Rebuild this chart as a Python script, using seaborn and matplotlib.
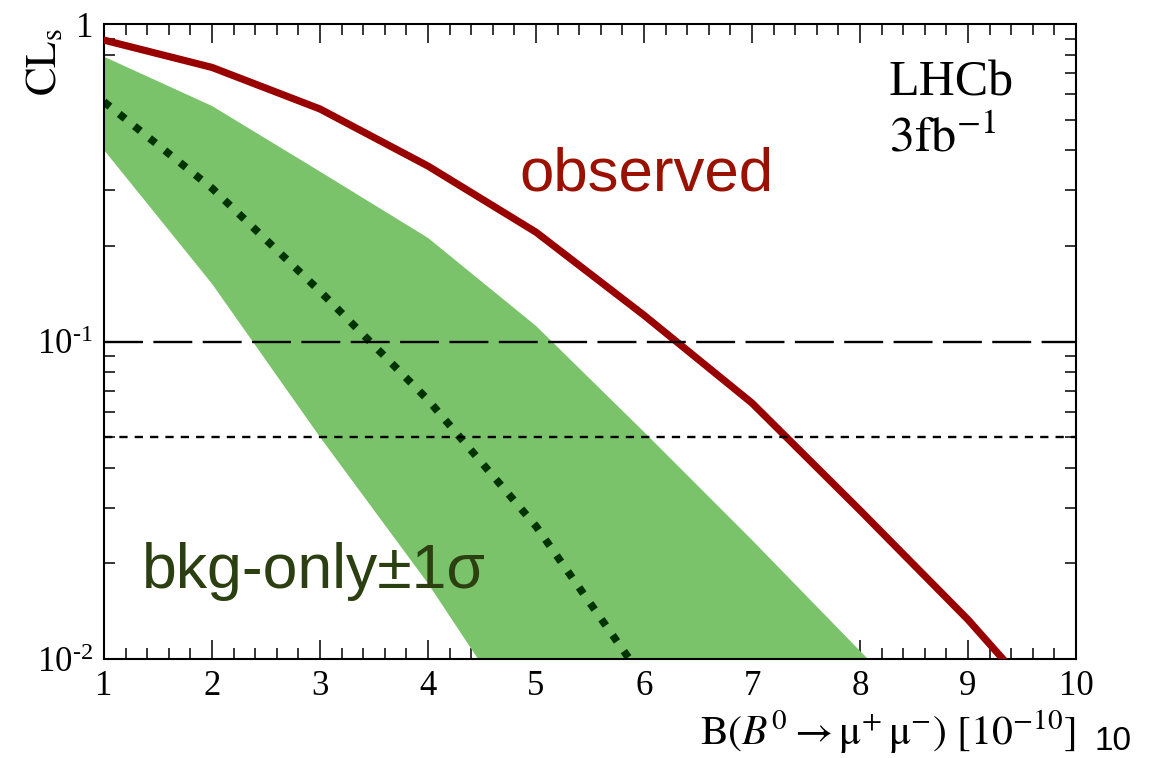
import matplotlib
matplotlib.use("Agg")
import matplotlib.pyplot as plt
import seaborn as sns
from matplotlib.ticker import FixedLocator, MultipleLocator, LogLocator, NullFormatter

# valores (CLs vs B(B0 -> mu mu) em unidades de 1e-10)
x_obs = [1, 2, 3, 4, 5, 6, 7, 8, 9, 10]
cls_obs = [0.89, 0.73, 0.54, 0.357, 0.221, 0.121, 0.064, 0.0294, 0.0133, 0.0055]

x_exp = [1, 2, 3, 4, 5, 6]
cls_exp = [0.569, 0.304, 0.144, 0.0655, 0.0262, 0.0086]

x_band = [1, 2, 3, 4, 5, 6, 7, 8, 9]
band_up = [0.789, 0.552, 0.343, 0.212, 0.112, 0.0519, 0.0237, 0.0106, 0.0048]
band_lo = [0.401, 0.152, 0.050, 0.0173, 0.0053, 0.0016, 0.0005, 0.00015, 0.00005]

cl_levels = [0.1, 0.05]

x_ticks = [1, 2, 3, 4, 5, 6, 7, 8, 9, 10]
y_ticks = [0.01, 0.1, 1]
# expoente com hifen (estilo ROOT)
y_ticklabels = ["$\\mathregular{10^{\u2010 2}}$", "$\\mathregular{10^{\u2010 1}}$", "1"]


def configurar_estilo():
    sns.set_style("ticks")
    plt.rcParams["font.family"] = ["Liberation Serif", "DejaVu Serif"]
    plt.rcParams["mathtext.fontset"] = "stix"
    plt.rcParams["axes.linewidth"] = 1.5
    for k in ["text.color", "axes.labelcolor", "xtick.color", "ytick.color", "axes.edgecolor"]:
        plt.rcParams[k] = "black"


def desenhar(ax):
    ax.fill_between(x_band, band_lo, band_up, color="#7AC36A", lw=0, zorder=1)
    sns.lineplot(x=x_exp, y=cls_exp, ax=ax, color="#003300", linewidth=5.5,
                 linestyle=(0, (1, 1.55)), dash_capstyle="butt", zorder=2)
    sns.lineplot(x=x_obs, y=cls_obs, ax=ax, color="#990000", linewidth=5.2, zorder=3)

    ax.axhline(cl_levels[0], color="black", lw=1.7, dashes=(16.5, 4.4), zorder=4)
    ax.axhline(cl_levels[1], color="black", lw=1.7, dashes=(3.5, 3.0), zorder=4)

    ax.set_yscale("log")
    ax.set_xlim(1, 10)
    ax.set_ylim(0.01, 1)

    ax.xaxis.set_major_locator(FixedLocator(x_ticks))
    ax.set_xticklabels([str(t) for t in x_ticks])
    ax.xaxis.set_minor_locator(MultipleLocator(0.2))
    ax.yaxis.set_major_locator(FixedLocator(y_ticks))
    ax.set_yticklabels(y_ticklabels)
    ax.yaxis.set_minor_locator(LogLocator(base=10, subs=range(2, 10)))
    ax.yaxis.set_minor_formatter(NullFormatter())

    ax.tick_params(which="both", direction="in", top=True, right=True,
                   bottom=True, left=True, labelsize=25, width=1.1, pad=8)
    ax.tick_params(which="major", length=14)
    ax.tick_params(which="minor", length=8)
    for s in ax.spines.values():
        s.set_visible(True)
        s.set_color("black")

    ax.set_ylabel(r"$\mathrm{CL_s}$", fontsize=31, loc="top")
    ax.yaxis.set_label_coords(-0.040, 0.994)
    ax.set_xlabel(r"$\mathrm{B}(B^{\mathit{0}}\rightarrow\mathrm{\mu^{+}\,\mu^{-}})\ [10^{-10}]$",
                  fontsize=30, loc="right")
    ax.xaxis.set_label_coords(1.0, -0.078)

    ax.text(4.85, 0.30, "observed", color="#9A1100", fontsize=44.5,
            family=["Liberation Sans", "DejaVu Sans"], ha="left", va="baseline")
    ax.text(1.349, 0.01674, "bkg-only\u00b11\u03c3", color="#2B3F10", fontsize=45,
            family=["Liberation Sans", "DejaVu Sans"], ha="left", va="baseline")
    ax.text(0.8076, 0.888, "LHCb", transform=ax.transAxes, fontsize=36,
            ha="left", va="baseline")
    ax.text(0.8076, 0.799, r"$\mathrm{3fb}^{-1}$", transform=ax.transAxes, fontsize=36,
            ha="left", va="baseline")


def main():
    configurar_estilo()
    fig = plt.figure(figsize=(11.62, 7.58), dpi=100)
    ax = fig.add_axes([0.0895, 0.1306, 0.8365, 0.8377])
    desenhar(ax)
    fig.text(0.942, 0.0106, "10", fontsize=24, family=["Liberation Sans", "DejaVu Sans"],
             ha="left", va="baseline")
    fig.savefig("out.png", dpi=100)


if __name__ == "__main__":
    main()
